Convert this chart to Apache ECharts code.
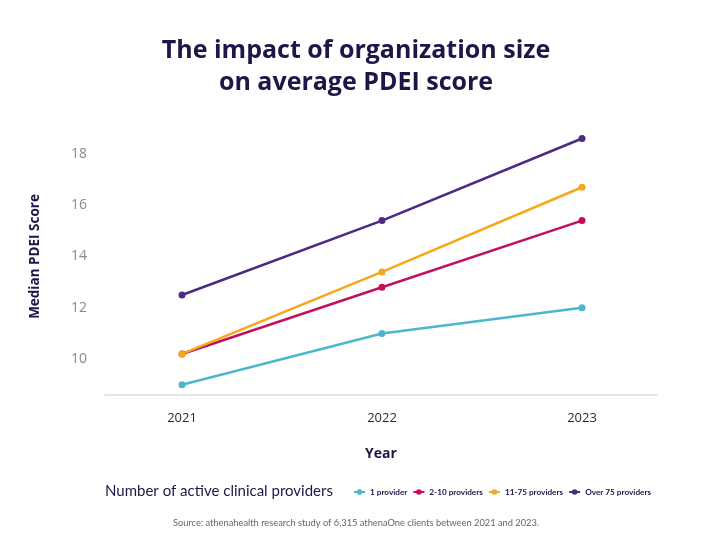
<!DOCTYPE html>
<html lang="en">
<head>
    <meta charset="UTF-8">
    <title>PDEI score by organization size</title>
    <script src="https://cdn.jsdelivr.net/npm/echarts@6/dist/echarts.min.js"></script>
    <style>
        * { margin: 0; padding: 0; }
        body { background: #fff; }
        #chart { width: 712px; height: 554px; }
    </style>
</head>
<body>
<div id="chart"></div>
<script>
    // data
    var years = [2021, 2022, 2023];
    var seriesNames = ['1 provider', '2-10 providers', '11-75 providers', 'Over 75 providers'];
    var oneProvider = [9.0, 11.0, 12.0];
    var twoToTen = [10.2, 12.8, 15.4];
    var elevenTo75 = [10.2, 13.4, 16.7];
    var over75 = [12.5, 15.4, 18.6];
    var yTicks = [10, 12, 14, 16, 18];

    var colors = ['#4db6cf', '#c0115e', '#f6a81c', '#4a2a85'];
    var navy = '#1c1748';
    var titleFont = '"Open Sans", sans-serif';
    var font = 'Lato, sans-serif';

    function pairs(vals) {
        return years.map(function (y, i) { return [y, vals[i]]; });
    }

    function lineSeries(name, vals, color) {
        return {
            name: name,
            type: 'line',
            data: pairs(vals),
            symbol: 'circle',
            symbolSize: 7,
            lineStyle: { width: 2.5, color: color },
            itemStyle: { color: color },
            emphasis: { disabled: true }
        };
    }

    var chart = echarts.init(document.getElementById('chart'));
    chart.setOption({
        animation: false,
        textStyle: { fontFamily: font },
        title: [{
            text: 'The impact of organization size\non average PDEI score',
            left: 'center',
            top: 30,
            textStyle: { fontFamily: titleFont, fontSize: 25, fontWeight: 'bold', color: navy, lineHeight: 32 }
        }, {
            text: 'Number of active clinical providers',
            left: 105,
            top: 484,
            padding: 0,
            textStyle: { fontFamily: font, fontSize: 15, fontWeight: 'normal', color: navy }
        }, {
            text: 'Source: athenahealth research study of 6,315 athenaOne clients between 2021 and 2023.',
            left: 'center',
            top: 518,
            padding: 0,
            textStyle: { fontFamily: font, fontSize: 9.3, fontWeight: 'normal', color: '#666' }
        }],
        legend: {
            data: seriesNames,
            left: 353,
            top: 488,
            width: 340,
            itemWidth: 11,
            itemHeight: 7,
            itemGap: 5,
            textStyle: { fontFamily: font, fontSize: 8.2, fontWeight: 'bold', color: navy },
            padding: 0
        },
        grid: { left: 105, right: 55, top: 118, bottom: 159 },
        xAxis: {
            type: 'value',
            min: 2020.615,
            max: 2023.375,
            name: 'Year',
            nameLocation: 'middle',
            nameGap: 52,
            nameTextStyle: { fontFamily: titleFont, fontSize: 14, fontWeight: 'bold', color: navy },
            axisLine: { show: true, lineStyle: { color: '#dddddd', width: 1.5 } },
            axisTick: { show: false },
            splitLine: { show: false },
            axisLabel: {
                customValues: years,
                formatter: function (v) { return String(v); },
                margin: 17,
                fontFamily: titleFont,
                fontSize: 13,
                color: '#2a2740'
            }
        },
        yAxis: {
            type: 'value',
            min: 8.6,
            max: 19.4,
            name: 'Median PDEI Score',
            nameLocation: 'middle',
            nameRotate: 90,
            nameGap: 63,
            nameTextStyle: { fontFamily: titleFont, fontSize: 13.5, fontWeight: 'bold', color: navy },
            axisLine: { show: false },
            axisTick: { show: false },
            splitLine: { show: false },
            axisLabel: {
                customValues: yTicks,
                margin: 18,
                fontFamily: titleFont,
                fontSize: 14,
                color: '#8a8a8a'
            }
        },
        series: [
            lineSeries(seriesNames[0], oneProvider, colors[0]),
            lineSeries(seriesNames[1], twoToTen, colors[1]),
            lineSeries(seriesNames[2], elevenTo75, colors[2]),
            lineSeries(seriesNames[3], over75, colors[3])
        ]
    });
</script>
</body>
</html>
